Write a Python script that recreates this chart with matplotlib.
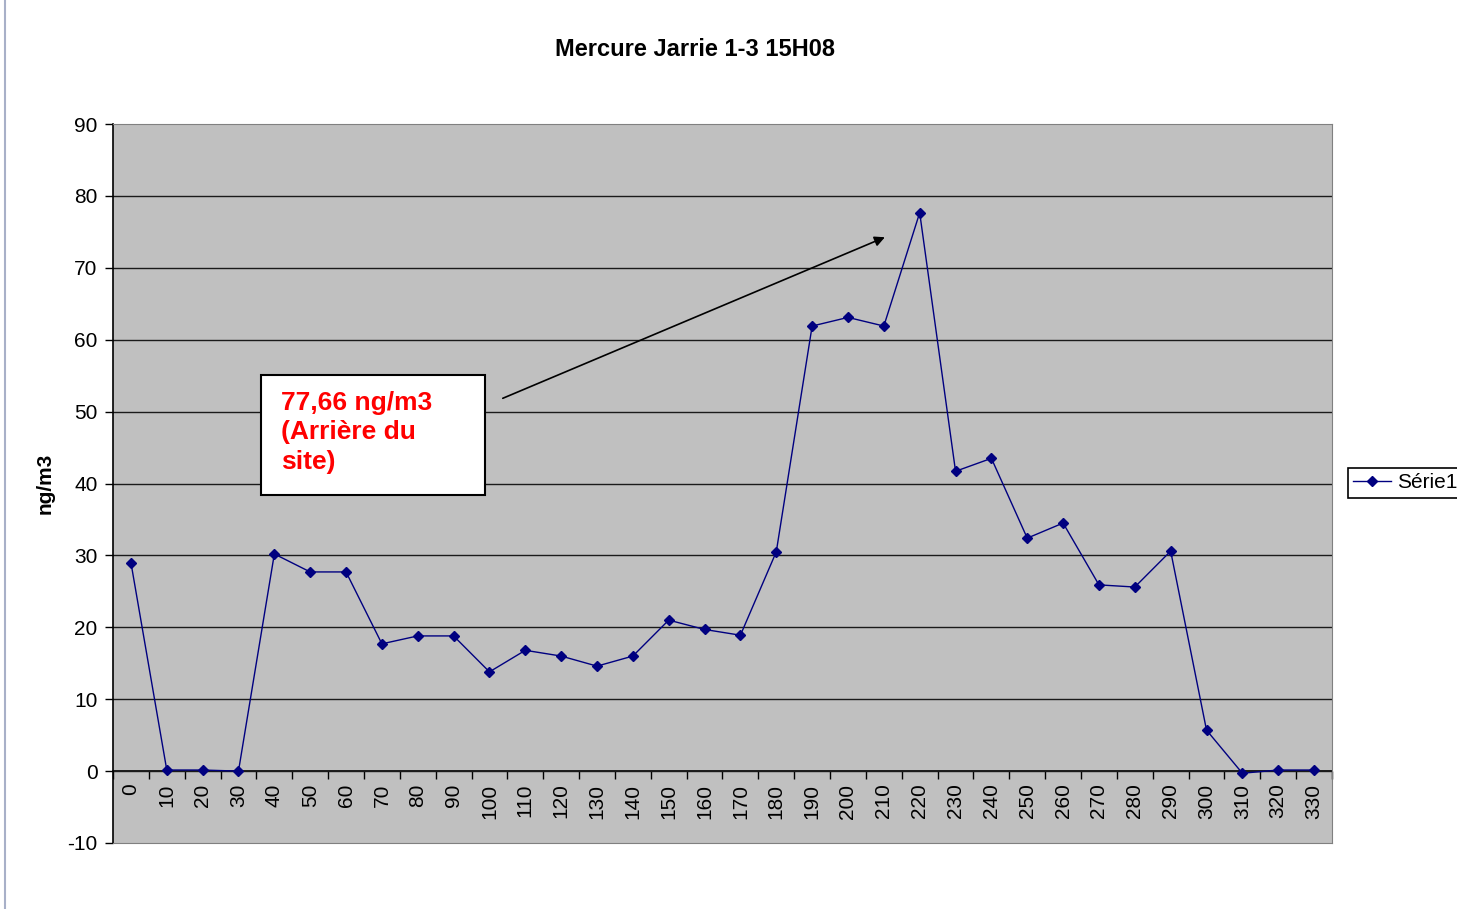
import matplotlib.pyplot as plt
import numpy as np
from matplotlib.patches import Rectangle
from matplotlib.lines import Line2D

plt.rcParams['font.family'] = ['Liberation Sans', 'DejaVu Sans']
plt.rcParams['axes.unicode_minus'] = False

angles = list(range(0, 340, 10))
mercury = [29.0, 0.15, 0.15, 0.0, 30.2, 27.7, 27.7, 17.7, 18.8, 18.8,
           13.8, 16.8, 16.0, 14.6, 16.0, 21.0, 19.7, 18.9, 30.5, 61.9,
           63.1, 61.9, 77.66, 41.7, 43.5, 32.4, 34.5, 25.9, 25.6, 30.6,
           5.7, -0.3, 0.15, 0.15]
y_ticks = list(range(-10, 100, 10))

W, H = 1457, 909
fig = plt.figure(figsize=(W / 100, H / 100), dpi=100)
ax = fig.add_axes([113 / W, 1 - 843 / H, (1332 - 113) / W, (843 - 124) / H])
ax.set_facecolor('#c0c0c0')

x = np.arange(len(angles))
ax.plot(x, mercury, color='#000080', lw=1.0, marker='D', ms=5, label='Série1', zorder=3)

ax.set_xlim(-0.5, len(angles) - 0.5)
ax.set_ylim(-10, 90)
ax.set_yticks(y_ticks)
ax.tick_params(axis='y', direction='out', length=6, width=1, labelsize=15, pad=5)
for yv in y_ticks[1:-1]:
    ax.axhline(yv, color='#1a1a1a', lw=1, zorder=1)
ax.set_xticks([])

for s in ['top', 'right', 'bottom']:
    ax.spines[s].set_color('#808080')
ax.spines['left'].set_color('black')
ax.spines['left'].set_linewidth(1.2)

# category axis drawn through y = 0
sec = ax.secondary_xaxis(0.1)
sec.spines['bottom'].set_color('black')
sec.spines['bottom'].set_linewidth(1.2)
sec.set_xticks(x)
sec.set_xticklabels([str(a) for a in angles], rotation=90)
sec.set_xticks(np.arange(-0.5, len(angles)), minor=True)
sec.tick_params(axis='x', which='major', length=0, labelsize=15, pad=9)
sec.tick_params(axis='x', which='minor', length=6, width=1, direction='out')

ax.set_ylabel('ng/m3', fontsize=15, fontweight='bold')
ax.yaxis.set_label_coords((55 - 113) / 1219, 0.5)

fig.text(695 / W, 1 - 50 / H, 'Mercure Jarrie 1-3 15H08', ha='center', va='center',
         fontsize=17, fontweight='bold')

# annotation box
ax.add_patch(Rectangle((3.63, 38.4), 9.87 - 3.63, 55.1 - 38.4, facecolor='white',
                       edgecolor='black', lw=1.5, zorder=4))
ax.text(4.18, 52.9, '77,66 ng/m3\n(Arrière du\nsite)', color='#ff0000', fontsize=19,
        fontweight='bold', va='top', ha='left', linespacing=1.3, zorder=5)
ax.annotate('', xy=(21.1, 74.4), xytext=(10.3, 51.7),
            arrowprops=dict(arrowstyle='-|>', color='black', lw=1.2,
                            mutation_scale=15), zorder=5)

leg = fig.legend(loc='center left', bbox_to_anchor=(1348 / W, 1 - 483 / H), fontsize=15,
                 fancybox=False, edgecolor='black', framealpha=1, handlelength=1.8,
                 handletextpad=0.3, borderaxespad=0, borderpad=0.25)
leg.get_frame().set_linewidth(1.2)

fig.add_artist(Line2D([5 / W, 5 / W], [0, 1], color='#a8b0c8', lw=1.5))

fig.savefig('out.png', dpi=100)
